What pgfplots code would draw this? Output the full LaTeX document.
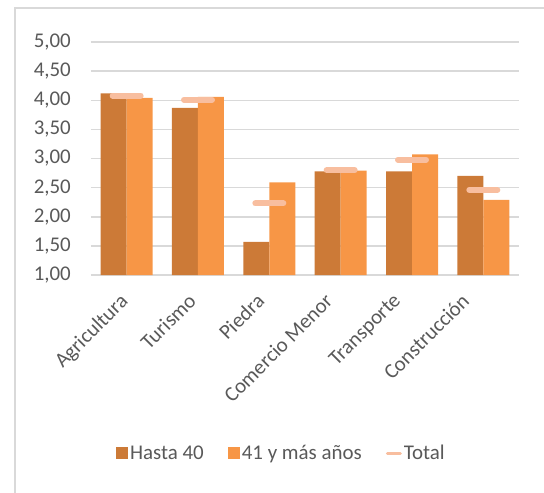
\documentclass[border=0pt]{standalone}
\usepackage{fontspec}
\setmainfont{Carlito}
\usepackage{pgfplots}
\pgfplotsset{compat=1.18}
\definecolor{cHasta}{HTML}{CC7A37}
\definecolor{cMas}{HTML}{F79646}
\definecolor{cTot}{HTML}{F8BE9F}
\definecolor{cTxt}{HTML}{595959}
\definecolor{cGrid}{HTML}{D9D9D9}
\begin{document}
\begin{tikzpicture}
\useasboundingbox (-91bp,-218bp) rectangle (453bp,275bp);
\draw[cGrid, line width=1.5bp] (-76bp,-240bp) -- (-76bp,267bp) -- (480bp,267bp);
\begin{axis}[
  at={(0,0)}, anchor=south west,
  scale only axis, width=428bp, height=233bp,
  ymin=1, ymax=5, ytick={1,1.5,...,5},
  xmin=-0.5, xmax=5.5,
  xtick={0,1,2,3,4,5},
  xticklabels={Agricultura,Turismo,Piedra,Comercio Menor,Transporte,Construcción},
  axis line style={draw=none},
  major tick length=0pt,
  ymajorgrids, grid style={cGrid, line width=1.5bp},
  font=\fontsize{21}{25}\selectfont,
  tick label style={text=cTxt},
  /pgf/number format/.cd, fixed, fixed zerofill, precision=2, use comma, assume math mode=true,
  /pgfplots/.cd,
  yticklabel style={anchor=east, inner sep=0pt, xshift=-20bp},
  xticklabel style={xshift={-8bp-\ticknum*3bp}, yshift=-17bp, rotate=45, anchor=north east, inner sep=0pt},
  ybar=0pt, bar width=26bp,
  legend style={at={(axis description cs:0.445,-0.764)}, anchor=center, draw=none, fill=none,
    legend columns=3, text=cTxt, font=\fontsize{21}{25}\selectfont,
    /tikz/every even column/.append style={column sep=22bp}},
  legend image code/.code={\fill[#1] (0bp,-6bp) rectangle (12bp,6bp);},
]
\addplot[fill=cHasta, draw=none] coordinates {(0,4.12) (1,3.87) (2,1.57) (3,2.78) (4,2.78) (5,2.70)};
\addlegendentry{Hasta 40}
\addplot[fill=cMas, draw=none] coordinates {(0,4.04) (1,4.06) (2,2.59) (3,2.79) (4,3.07) (5,2.29)};
\addlegendentry{41 y más años}
\addplot[only marks, mark=-, mark size=14bp, bar shift=0pt, cTot,
  mark options={line width=6bp, line cap=round},
  legend image code/.code={\draw[cTot, line width=3bp, line cap=round] (1bp,0) -- (14bp,0);}]
  coordinates {(0,4.08) (1,4.01) (2,2.23) (3,2.80) (4,2.98) (5,2.46)};
\addlegendentry{Total}
\end{axis}
\end{tikzpicture}
\end{document}
